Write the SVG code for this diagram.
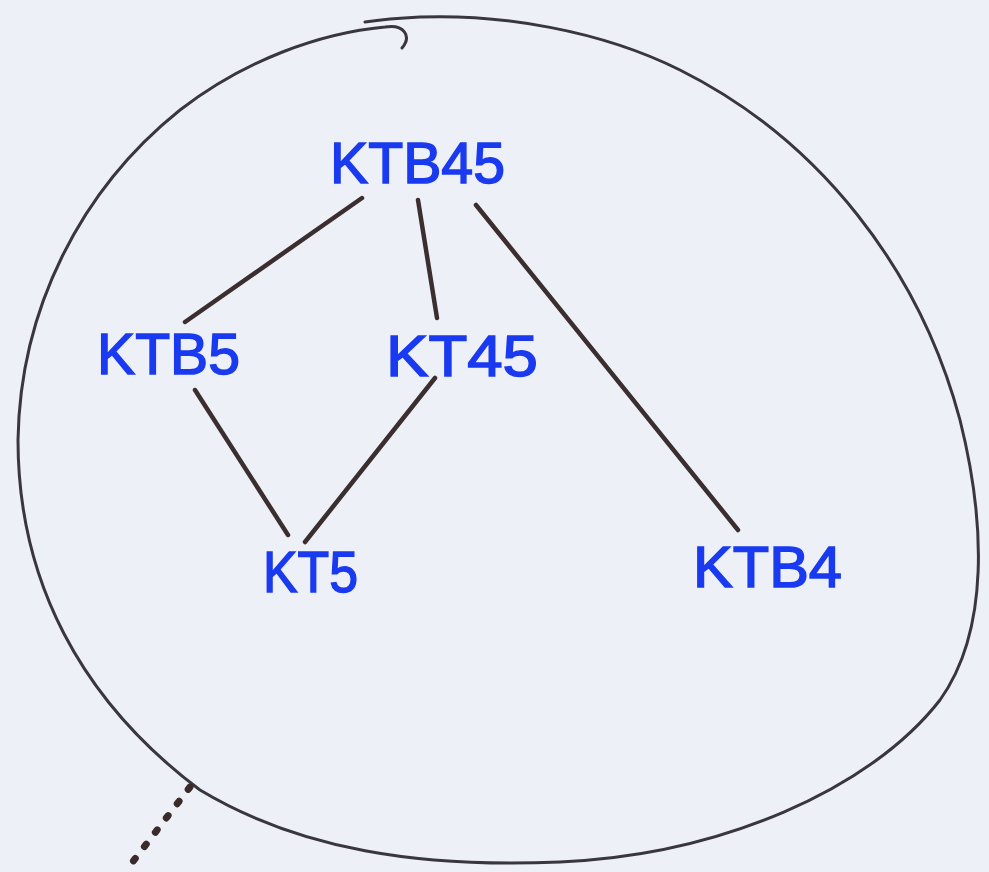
<svg xmlns="http://www.w3.org/2000/svg" width="989" height="872" viewBox="0 0 989 872">
<style>
.lbl{font-family:"Liberation Sans","DejaVu Sans",sans-serif;font-size:58px;fill:#1a3af0;stroke:#1a3af0;stroke-width:1.5px;}
.edge{stroke:#3b2e2e;stroke-width:4.5;stroke-linecap:round;fill:none;}
.outline{stroke:#3a3640;stroke-width:3;fill:none;stroke-linecap:round;}
.dots{stroke:#3b2a2a;stroke-width:7;fill:none;stroke-linecap:round;stroke-dasharray:3,15;}
</style>
<rect width="989" height="872" fill="#eef0f8"/>
<path class="outline" d="M402,48 C412,36 404,24 385,27 C320,33 245,60 180,110 C80,190 20,310 18,440 C18,580 80,700 200,790 C300,850 420,868 560,862 C720,855 870,790 940,700 C990,630 985,520 960,420 C920,270 820,140 680,70 C600,30 500,14 420,17 C400,18 385,19 365,22"/>
<path class="dots" d="M190,787 L128,868"/>
<g id="connectors">
<line class="edge" x1="362" y1="198" x2="185" y2="322"/>
<line class="edge" x1="418" y1="200" x2="437" y2="318"/>
<line class="edge" x1="476" y1="205" x2="738" y2="530"/>
<line class="edge" x1="195" y1="390" x2="288" y2="535"/>
<line class="edge" x1="435" y1="378" x2="305" y2="542"/>
</g>
<g id="KTB45"><text class="lbl" x="330" y="183" textLength="175" lengthAdjust="spacingAndGlyphs">KTB45</text></g>
<g id="KTB5"><text class="lbl" x="97" y="374" textLength="143" lengthAdjust="spacingAndGlyphs">KTB5</text></g>
<g id="KT45"><text class="lbl" x="386" y="376" textLength="152" lengthAdjust="spacingAndGlyphs">KT45</text></g>
<g id="KT5"><text class="lbl" x="263" y="592" textLength="95" lengthAdjust="spacingAndGlyphs">KT5</text></g>
<g id="KTB4"><text class="lbl" x="693" y="587" textLength="149" lengthAdjust="spacingAndGlyphs">KTB4</text></g>
</svg>
